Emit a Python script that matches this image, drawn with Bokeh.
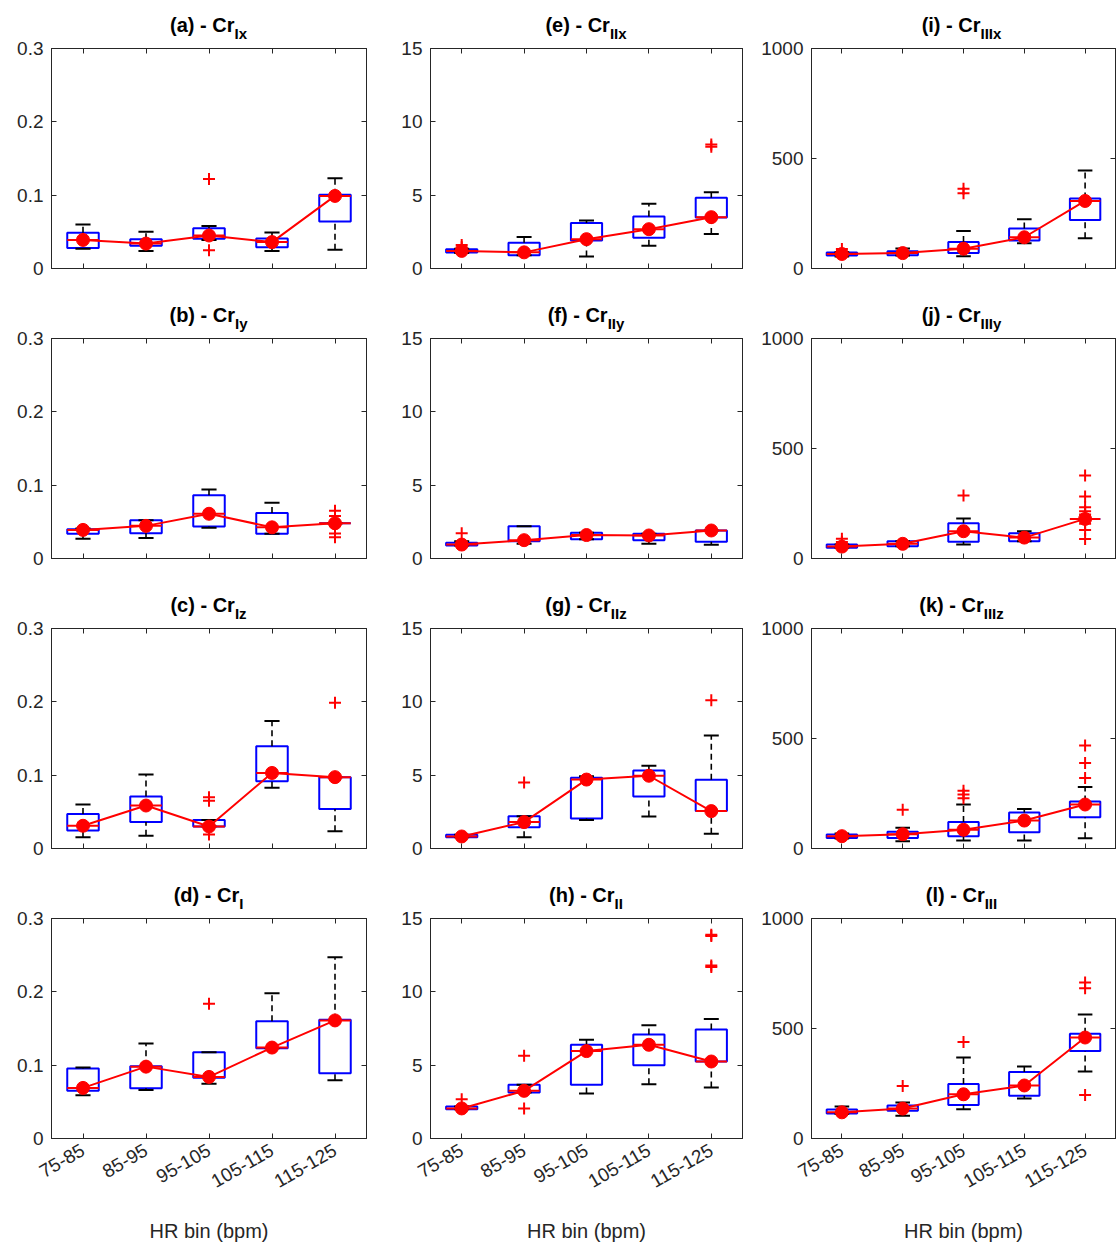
import math
from bokeh.plotting import figure
from bokeh.models import Range1d, FixedTicker, LinearAxis, CustomJSTickFormatter, Div
from bokeh.layouts import column, row
from bokeh.embed import file_html
from bokeh.resources import INLINE

# ---------------- data ----------------
hr_bins = ["75-85", "85-95", "95-105", "105-115", "115-125"]
x_pos = [1, 2, 3, 4, 5]

yticks_I = [0, 0.1, 0.2, 0.3]
ylabels_I = ["0", "0.1", "0.2", "0.3"]
yticks_II = [0, 5, 10, 15]
ylabels_II = ["0", "5", "10", "15"]
yticks_III = [0, 500, 1000]
ylabels_III = ["0", "500", "1000"]

# (a) Cr_Ix
ix_lo = [0.027, 0.024, 0.039, 0.024, 0.0255]
ix_q1 = [0.028, 0.031, 0.0405, 0.029, 0.064]
ix_med = [0.039, 0.034, 0.045, 0.036, 0.099]
ix_q3 = [0.0486, 0.040, 0.055, 0.041, 0.1005]
ix_hi = [0.060, 0.050, 0.058, 0.049, 0.123]
ix_out = [[], [], [0.122, 0.025], [], []]

# (b) Cr_Iy
iy_lo = [0.027, 0.028, 0.042, 0.0336, 0.048]
iy_q1 = [0.0336, 0.0345, 0.0436, 0.0336, 0.048]
iy_med = [0.039, 0.0445, 0.061, 0.0425, 0.048]
iy_q3 = [0.040, 0.052, 0.0864, 0.062, 0.048]
iy_hi = [0.041, 0.052, 0.094, 0.076, 0.048]
iy_out = [[], [], [], [], [0.065, 0.058, 0.034, 0.029]]

# (c) Cr_Iz
iz_lo = [0.0155, 0.0173, 0.030, 0.0827, 0.0236]
iz_q1 = [0.0245, 0.036, 0.030, 0.0918, 0.054]
iz_med = [0.031, 0.0586, 0.030, 0.103, 0.0973]
iz_q3 = [0.047, 0.071, 0.039, 0.1395, 0.0973]
iz_hi = [0.060, 0.101, 0.039, 0.174, 0.0973]
iz_out = [[], [], [0.070, 0.065, 0.019], [], [0.1986]]

# (d) Cr_I
i_lo = [0.059, 0.066, 0.0745, 0.123, 0.0795]
i_q1 = [0.065, 0.0686, 0.083, 0.123, 0.089]
i_med = [0.069, 0.098, 0.084, 0.124, 0.161]
i_q3 = [0.0955, 0.0986, 0.1177, 0.160, 0.162]
i_hi = [0.0968, 0.1295, 0.1177, 0.198, 0.247]
i_out = [[], [], [0.1836], [], []]

# (e) Cr_IIx
iix_lo = [1.05, 0.91, 0.82, 1.55, 2.36]
iix_q1 = [1.09, 0.91, 1.91, 2.09, 3.48]
iix_med = [1.2, 1.1, 2.0, 2.68, 3.5]
iix_q3 = [1.32, 1.75, 3.11, 3.55, 4.82]
iix_hi = [1.35, 2.14, 3.27, 4.41, 5.2]
iix_out = [[1.6, 1.45], [], [], [], [8.45, 8.3]]

# (f) Cr_IIy
iiy_lo = [0.89, 1.0, 1.32, 1.0, 0.93]
iiy_q1 = [0.89, 1.18, 1.32, 1.25, 1.14]
iiy_med = [0.95, 1.25, 1.6, 1.57, 1.91]
iiy_q3 = [1.07, 2.2, 1.75, 1.68, 1.91]
iiy_hi = [1.18, 2.2, 1.75, 1.68, 1.91]
iiy_out = [[1.73], [], [], [], []]

# (g) Cr_IIz
iiz_lo = [0.77, 0.77, 1.95, 2.18, 1.0]
iiz_q1 = [0.77, 1.45, 2.05, 3.55, 2.55]
iiz_med = [0.82, 1.8, 4.7, 4.96, 2.55]
iiz_q3 = [0.93, 2.2, 4.82, 5.32, 4.68]
iiz_hi = [0.93, 2.2, 4.93, 5.64, 7.7]
iiz_out = [[], [4.5], [], [], [10.1]]

# (h) Cr_II
ii_lo = [2.0, 3.14, 3.07, 3.7, 3.48]
ii_q1 = [2.0, 3.14, 3.66, 5.0, 5.25]
ii_med = [2.05, 3.25, 5.96, 6.39, 5.25]
ii_q3 = [2.18, 3.66, 6.39, 7.09, 7.43]
ii_hi = [2.18, 3.66, 6.73, 7.73, 8.14]
ii_out = [[2.68], [5.64, 2.05], [], [], [13.9, 13.8, 11.8, 11.7]]

# (i) Cr_IIIx
iiix_lo = [55, 59, 56, 115, 138]
iiix_q1 = [59, 60.6, 70, 127, 221]
iiix_med = [66, 70, 90, 142, 307]
iiix_q3 = [72.7, 78.8, 121, 182, 318]
iiix_hi = [75, 91, 170, 224, 445]
iiix_out = [[89], [], [362, 342], [], []]

# (j) Cr_IIIy
iiiy_lo = [48.5, 56, 63.6, 78.8, 180]
iiiy_q1 = [48.5, 56, 75.8, 78.8, 180]
iiiy_med = [54, 66.7, 124, 95, 180]
iiiy_q3 = [63.6, 78.8, 160.6, 115, 180]
iiiy_hi = [63.6, 78.8, 182, 124, 180]
iiiy_out = [[90, 75], [], [286], [], [377, 282, 233, 215, 200, 158, 130, 89]]

# (k) Cr_IIIz
iiiz_lo = [45, 33, 36, 36, 47]
iiiz_q1 = [48, 48, 56, 74, 142]
iiiz_med = [56, 65, 85, 127, 200]
iiiz_q3 = [64, 76, 120, 164, 214]
iiiz_hi = [68, 94, 200, 180, 279]
iiiz_out = [[], [176], [262, 245, 228], [], [468, 389, 320]]

# (l) Cr_III
iii_lo = [111, 103, 133, 182, 305]
iii_q1 = [114, 126, 152, 194, 398]
iii_med = [119, 136, 201, 241, 459]
iii_q3 = [132, 150, 248, 302, 476]
iii_hi = [145, 164, 368, 327, 564]
iii_out = [[], [239], [439], [], [709, 683, 198]]

x_label = "HR bin (bpm)"

# ---------------- layout helpers ----------------
AX = "#262626"
FONT = "Liberation Sans"
TITLE_H = 32


def blank():
    return CustomJSTickFormatter(code="return ''")


def make_panel(col, rowi, letter, sub, ymax, yt, yl, lo, q1, med, q3, hi, out):
    bottom = rowi == 3
    ml, mr, fw = [(51, 17, 315), (47, 16, 312), (50, 2, 307)][col]
    mt, fh = 16, 220
    mb = 110 if bottom else 22
    W = ml + fw + mr
    p = figure(width=W, height=mt + fh + mb,
               x_range=Range1d(0.5, 5.5), y_range=Range1d(0, ymax),
               output_backend="svg", toolbar_location=None,
               min_border_left=ml, min_border_right=mr,
               min_border_top=mt, min_border_bottom=mb)
    p.grid.visible = False
    p.outline_line_color = AX
    p.outline_line_width = 1
    p.background_fill_color = "white"
    p.border_fill_color = None

    # left y axis
    ya = p.yaxis[0]
    ya.ticker = FixedTicker(ticks=yt)
    ya.major_label_overrides = {t: s for t, s in zip(yt, yl)}
    ya.major_tick_in = 5
    ya.major_tick_out = 0
    ya.minor_tick_line_color = None
    ya.axis_line_color = AX
    ya.major_tick_line_color = AX
    ya.major_label_text_color = AX
    ya.major_label_text_font = FONT
    ya.major_label_text_font_size = "19px"
    ya.major_label_standoff = 8

    # bottom x axis
    xa = p.xaxis[0]
    xa.ticker = FixedTicker(ticks=x_pos)
    xa.major_tick_in = 5
    xa.major_tick_out = 0
    xa.minor_tick_line_color = None
    xa.axis_line_color = AX
    xa.major_tick_line_color = AX
    if bottom:
        xa.major_label_overrides = {t: s for t, s in zip(x_pos, hr_bins)}
        xa.major_label_orientation = math.radians(30)
        xa.major_label_text_color = AX
        xa.major_label_text_font = FONT
        xa.major_label_text_font_size = "19px"
        xa.major_label_standoff = 10
        xa.axis_label = x_label
        xa.axis_label_text_font = FONT
        xa.axis_label_text_font_style = "normal"
        xa.axis_label_text_font_size = "20px"
        xa.axis_label_text_color = AX
        xa.axis_label_standoff = 23
    else:
        xa.formatter = blank()
        xa.major_label_standoff = 0

    # right & top mirrored ticks
    ra = LinearAxis(ticker=FixedTicker(ticks=yt), formatter=blank(),
                    major_tick_in=5, major_tick_out=0, minor_tick_line_color=None,
                    axis_line_color=AX, major_tick_line_color=AX, major_label_standoff=0)
    p.add_layout(ra, "right")
    ta = LinearAxis(ticker=FixedTicker(ticks=x_pos), formatter=blank(),
                    major_tick_in=5, major_tick_out=0, minor_tick_line_color=None,
                    axis_line_color=AX, major_tick_line_color=AX, major_label_standoff=0)
    p.add_layout(ta, "above")

    xs = x_pos
    # boxes
    p.quad(left=[x - 0.25 for x in xs], right=[x + 0.25 for x in xs], bottom=q1, top=q3,
           fill_color=None, line_color="#0000ff", line_width=2)
    # whiskers (dashed)
    p.segment(x0=xs, y0=q3, x1=xs, y1=hi, line_color="black", line_width=1.6, line_dash="6 4")
    p.segment(x0=xs, y0=lo, x1=xs, y1=q1, line_color="black", line_width=1.6, line_dash="6 4")
    # caps
    p.segment(x0=[x - 0.12 for x in xs], y0=hi, x1=[x + 0.12 for x in xs], y1=hi,
              line_color="black", line_width=2)
    p.segment(x0=[x - 0.12 for x in xs], y0=lo, x1=[x + 0.12 for x in xs], y1=lo,
              line_color="black", line_width=2)
    # median lines
    p.segment(x0=[x - 0.25 for x in xs], y0=med, x1=[x + 0.25 for x in xs], y1=med,
              line_color="#ff0000", line_width=2)
    # outliers
    ox = [x for x, o in zip(xs, out) for _ in o]
    oy = [v for o in out for v in o]
    if ox:
        p.scatter(ox, oy, marker="cross", size=12, line_width=2, line_color="#ff0000")
    # median trend
    p.line(xs, med, line_color="#ff0000", line_width=2)
    p.scatter(xs, med, marker="circle", size=13, fill_color="#ff0000", line_color="#ff0000")

    # title with subscript (real HTML text)
    html = (f'<div style="width:{fw}px; margin-left:{ml}px; height:{TITLE_H}px; '
            f'box-sizing:border-box; padding-top:14px; text-align:center; white-space:nowrap; '
            f'overflow:visible; font-family:\'{FONT}\'; font-weight:bold; font-size:20px; '
            f'line-height:22px; color:#000;">'
            f'({letter}) - Cr<span style="font-size:15px; position:relative; top:7px;">{sub}</span></div>')
    title = Div(text=html, width=W, height=TITLE_H, margin=0, styles={"overflow": "visible"})
    return column(title, p, spacing=0)


panels = [
    [("a", "Ix", 0.3, yticks_I, ylabels_I, ix_lo, ix_q1, ix_med, ix_q3, ix_hi, ix_out),
     ("e", "IIx", 15, yticks_II, ylabels_II, iix_lo, iix_q1, iix_med, iix_q3, iix_hi, iix_out),
     ("i", "IIIx", 1000, yticks_III, ylabels_III, iiix_lo, iiix_q1, iiix_med, iiix_q3, iiix_hi, iiix_out)],
    [("b", "Iy", 0.3, yticks_I, ylabels_I, iy_lo, iy_q1, iy_med, iy_q3, iy_hi, iy_out),
     ("f", "IIy", 15, yticks_II, ylabels_II, iiy_lo, iiy_q1, iiy_med, iiy_q3, iiy_hi, iiy_out),
     ("j", "IIIy", 1000, yticks_III, ylabels_III, iiiy_lo, iiiy_q1, iiiy_med, iiiy_q3, iiiy_hi, iiiy_out)],
    [("c", "Iz", 0.3, yticks_I, ylabels_I, iz_lo, iz_q1, iz_med, iz_q3, iz_hi, iz_out),
     ("g", "IIz", 15, yticks_II, ylabels_II, iiz_lo, iiz_q1, iiz_med, iiz_q3, iiz_hi, iiz_out),
     ("k", "IIIz", 1000, yticks_III, ylabels_III, iiiz_lo, iiiz_q1, iiiz_med, iiiz_q3, iiiz_hi, iiiz_out)],
    [("d", "I", 0.3, yticks_I, ylabels_I, i_lo, i_q1, i_med, i_q3, i_hi, i_out),
     ("h", "II", 15, yticks_II, ylabels_II, ii_lo, ii_q1, ii_med, ii_q3, ii_hi, ii_out),
     ("l", "III", 1000, yticks_III, ylabels_III, iii_lo, iii_q1, iii_med, iii_q3, iii_hi, iii_out)],
]

rows = []
for ri, prow in enumerate(panels):
    cells = [make_panel(ci, ri, *spec) for ci, spec in enumerate(prow)]
    rows.append(row(*cells, spacing=0))
layout = column(*rows, spacing=0)

open("out.html", "w").write(file_html(layout, INLINE))
